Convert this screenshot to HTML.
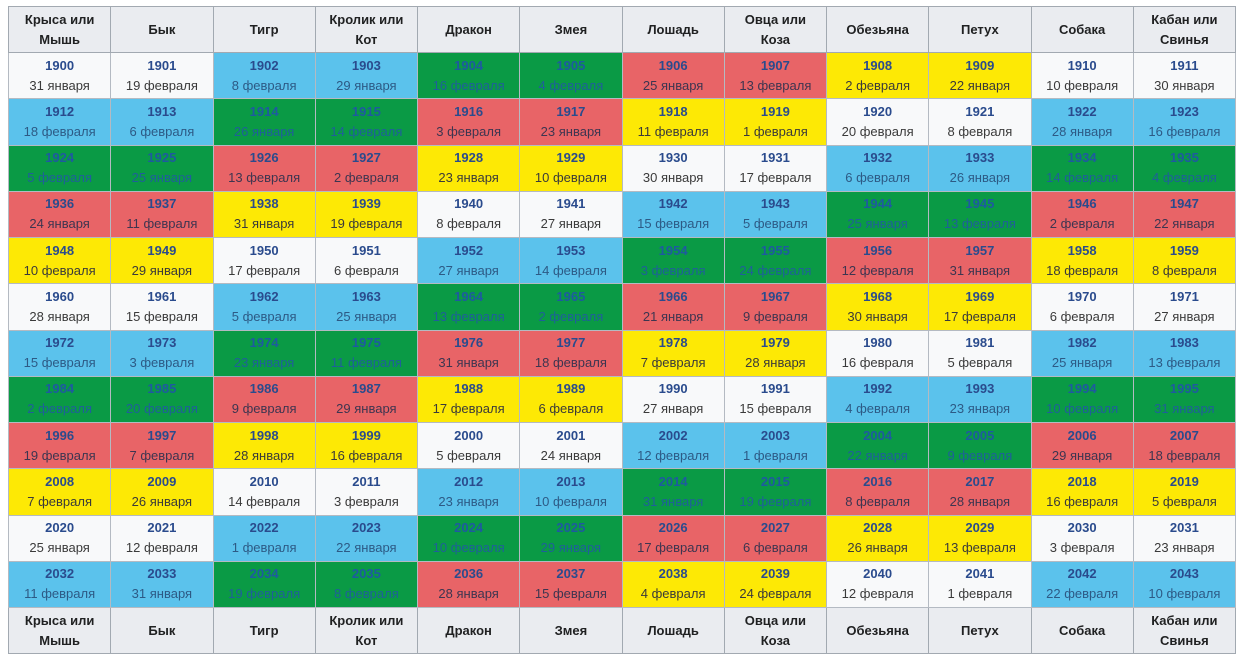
<!DOCTYPE html>
<html><head><meta charset="utf-8">
<style>
html,body{margin:0;padding:0;background:#fff;width:1240px;height:660px;overflow:hidden}
table{position:absolute;left:8px;top:6px;width:1228px;height:648px;border-collapse:collapse;table-layout:fixed;font-family:"Liberation Sans","DejaVu Sans",sans-serif;font-size:13px}
td,th{border:1px solid #b4bac2;text-align:center;padding:0;line-height:20px}
th{background:#eaecf0;color:#202122;font-weight:bold;height:45px;border-color:#a2a9b1}
td{height:45px}
.y{color:#2a4b8d;font-weight:bold;display:block}
.d{color:#3a3a3a;display:block}
.c0{background:#f8f9fa}.c1{background:#5bc2ec}.c2{background:#0a9a45}.c3{background:#e86467}.c4{background:#fde905}
.c2 .y{color:#1e5aa0}.c2 .d{color:#1f5f9a}.c1 .d{color:#2d5a85}.c3 .d{color:#3d3550}
</style></head><body>
<table>
<thead><tr id="hdr"></tr></thead>
<tbody id="body"></tbody>
<tfoot><tr id="ftr"></tr></tfoot>
</table>
<script>
const animals=["Крыса или<br>Мышь","Бык","Тигр","Кролик или<br>Кот","Дракон","Змея","Лошадь","Овца или<br>Коза","Обезьяна","Петух","Собака","Кабан или<br>Свинья"];
const startYears=[1900,1912,1924,1936,1948,1960,1972,1984,1996,2008,2020,2032];
const dates=[
"31 января|19 февраля|8 февраля|29 января|16 февраля|4 февраля|25 января|13 февраля|2 февраля|22 января|10 февраля|30 января",
"18 февраля|6 февраля|26 января|14 февраля|3 февраля|23 января|11 февраля|1 февраля|20 февраля|8 февраля|28 января|16 февраля",
"5 февраля|25 января|13 февраля|2 февраля|23 января|10 февраля|30 января|17 февраля|6 февраля|26 января|14 февраля|4 февраля",
"24 января|11 февраля|31 января|19 февраля|8 февраля|27 января|15 февраля|5 февраля|25 января|13 февраля|2 февраля|22 января",
"10 февраля|29 января|17 февраля|6 февраля|27 января|14 февраля|3 февраля|24 февраля|12 февраля|31 января|18 февраля|8 февраля",
"28 января|15 февраля|5 февраля|25 января|13 февраля|2 февраля|21 января|9 февраля|30 января|17 февраля|6 февраля|27 января",
"15 февраля|3 февраля|23 января|11 февраля|31 января|18 февраля|7 февраля|28 января|16 февраля|5 февраля|25 января|13 февраля",
"2 февраля|20 февраля|9 февраля|29 января|17 февраля|6 февраля|27 января|15 февраля|4 февраля|23 января|10 февраля|31 января",
"19 февраля|7 февраля|28 января|16 февраля|5 февраля|24 января|12 февраля|1 февраля|22 января|9 февраля|29 января|18 февраля",
"7 февраля|26 января|14 февраля|3 февраля|23 января|10 февраля|31 января|19 февраля|8 февраля|28 января|16 февраля|5 февраля",
"25 января|12 февраля|1 февраля|22 января|10 февраля|29 января|17 февраля|6 февраля|26 января|13 февраля|3 февраля|23 января",
"11 февраля|31 января|19 февраля|8 февраля|28 января|15 февраля|4 февраля|24 февраля|12 февраля|1 февраля|22 февраля|10 февраля"];
function fillHeader(id){
  const tr=document.getElementById(id);
  animals.forEach(a=>{
    const th=document.createElement('th');
    
    
    th.innerHTML=a;tr.appendChild(th);
  });
}
fillHeader('hdr');fillHeader('ftr');
const tb=document.getElementById('body');
startYears.forEach((sy,r)=>{
  const tr=document.createElement('tr');
  
  
  const ds=dates[r].split('|');
  for(let i=0;i<12;i++){
    const y=sy+i;
    const td=document.createElement('td');
    
    
    td.className='c'+Math.floor((y%10)/2);
    td.innerHTML='<span class="y">'+y+'</span><span class="d">'+ds[i]+'</span>';
    tr.appendChild(td);
  }
  tb.appendChild(tr);
});
</script>
</body></html>
